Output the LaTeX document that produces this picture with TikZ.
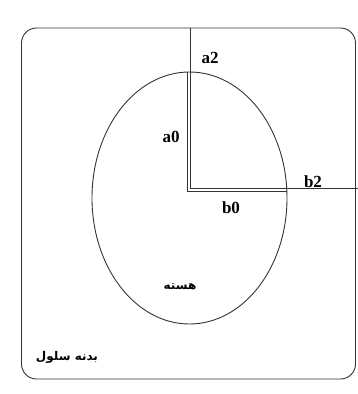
\documentclass[tikz,border=0pt]{standalone}
\usepackage{fontspec}
\setmainfont{Liberation Serif}
\newfontfamily\arabicfont[Script=Arabic]{DejaVu Sans}
\TeXXeTstate=1
\usetikzlibrary{shapes.geometric}
\begin{document}
\begin{tikzpicture}[x=1pt,y=-1pt,
  ln/.style={draw=black!80,line width=0.9pt},
  lbl/.style={font=\fontsize{17}{19}\selectfont\bfseries,inner sep=0pt},
  arlbl/.style={font=\arabicfont\fontsize{12}{14}\selectfont\bfseries,inner sep=0pt}]
\useasboundingbox (0,0) rectangle (358,394);
% cell body
\node[ln,rounded corners=15pt,minimum width=334pt,minimum height=351pt,inner sep=0pt] (cell) at (188.5,203.5) {};
% nucleus
\node[ln,ellipse,minimum width=195pt,minimum height=252pt,inner sep=0pt] (nuc) at (189.5,198) {};
% coordinates
\coordinate (oTop) at (190,28);
\coordinate (oCorner) at (190,188);
\coordinate (oRight) at (358,188);
\coordinate (iTop) at (187,72);
\coordinate (iCorner) at (187,191);
\coordinate (iRight) at (287,191);
\draw[ln] (oTop) -- (oCorner) -- (oRight);
\draw[ln] (iTop) -- (iCorner) -- (iRight);
% labels
\node[lbl] (a2) at (210,58) {a2};
\node[lbl] (a0) at (171,137) {a0};
\node[lbl] (b2) at (313,182) {b2};
\node[lbl] (b0) at (231,208) {b0};
\node[arlbl] (hasteh) at (180,287) {\beginR هسته\endR};
\node[arlbl] (badaneh) at (67,357) {\beginR بدنه سلول\endR};
\end{tikzpicture}
\end{document}
